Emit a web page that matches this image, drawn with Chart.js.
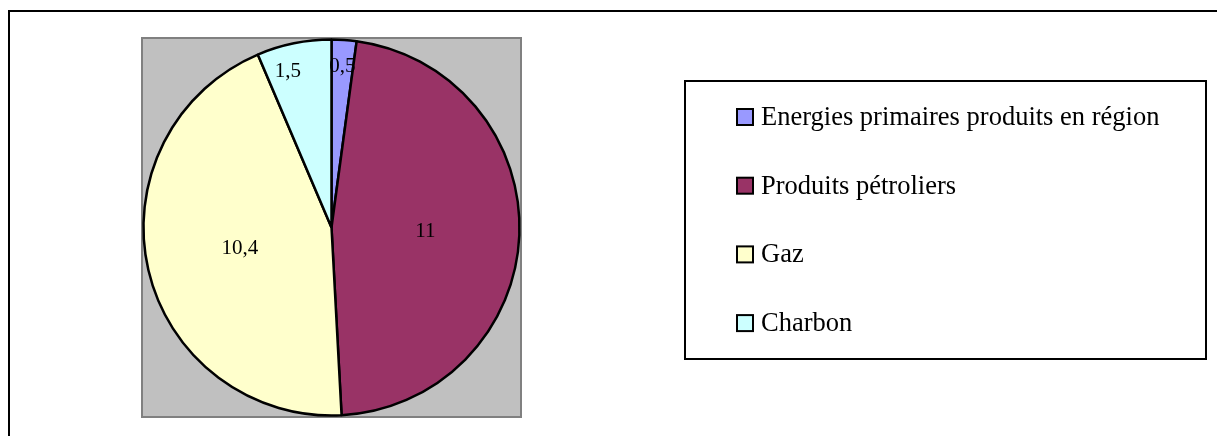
<!DOCTYPE html>
<html>
<head>
<meta charset="utf-8">
<script src="https://cdn.jsdelivr.net/npm/chart.js@4/dist/chart.umd.min.js"></script>
<style>
  html, body { margin: 0; padding: 0; background: #fff; }
  #wrap { width: 1217px; height: 436px; position: relative; }
</style>
</head>
<body>
<div id="wrap"><canvas id="pie" width="1217" height="436"></canvas></div>
<script>
// data
const categories = ['Energies primaires produits en région', 'Produits pétroliers', 'Gaz', 'Charbon'];
const values = [0.5, 11, 10.4, 1.5];
const valueLabels = ['0,5', '11', '10,4', '1,5'];
const sliceColors = ['#9999FF', '#993366', '#FFFFCC', '#CCFFFF'];

const serif = '"Liberation Serif", "Times New Roman", serif';

// frame + grey plot area behind the pie
const backdrop = {
    id: 'backdrop',
    beforeDraw(chart) {
        const ctx = chart.ctx;
        const a = chart.chartArea;
        ctx.save();
        ctx.strokeStyle = '#000';
        ctx.lineWidth = 2;
        ctx.strokeRect(9, 11, 1400, 600);
        ctx.fillStyle = '#C0C0C0';
        ctx.fillRect(a.left, a.top, a.right - a.left, a.bottom - a.top);
        ctx.strokeStyle = '#808080';
        ctx.lineWidth = 2;
        ctx.strokeRect(a.left, a.top, a.right - a.left, a.bottom - a.top);
        ctx.restore();
    }
};

// value labels inside slices, pushed outward on the thin ones
const sliceLabels = {
    id: 'sliceLabels',
    afterDatasetsDraw(chart) {
        const ctx = chart.ctx;
        const meta = chart.getDatasetMeta(0);
        ctx.save();
        ctx.font = '21px ' + serif;
        ctx.fillStyle = '#000';
        ctx.textAlign = 'center';
        ctx.textBaseline = 'middle';
        meta.data.forEach((arc, i) => {
            const p = arc.getProps(['x', 'y', 'startAngle', 'endAngle', 'outerRadius'], true);
            const span = p.endAngle - p.startAngle;
            const thin = span < 1;
            // thin slices: label sits toward the wider side of the wedge
            const mid = thin && i === values.length - 1 ? p.startAngle + span * 0.32 : (p.startAngle + p.endAngle) / 2;
            const r = p.outerRadius * (thin ? 0.86 : 0.5);
            ctx.fillText(valueLabels[i], p.x + Math.cos(mid) * r, p.y + Math.sin(mid) * r);
        });
        ctx.restore();
    }
};

// boxed legend on the right
const boxLegend = {
    id: 'boxLegend',
    afterDraw(chart) {
        const ctx = chart.ctx;
        const box = { x: 685, y: 81, w: 521, h: 278 };
        ctx.save();
        ctx.fillStyle = '#fff';
        ctx.fillRect(box.x, box.y, box.w, box.h);
        ctx.strokeStyle = '#000';
        ctx.lineWidth = 2;
        ctx.strokeRect(box.x, box.y, box.w, box.h);
        ctx.font = '26.5px ' + serif;
        ctx.textBaseline = 'middle';
        const labels = chart.data.labels;
        const colors = chart.data.datasets[0].backgroundColor;
        labels.forEach((lab, i) => {
            const cy = 117 + i * 68.7;
            ctx.fillStyle = colors[i];
            ctx.fillRect(737, cy - 8, 16, 16);
            ctx.lineWidth = 2;
            ctx.strokeStyle = '#000';
            ctx.strokeRect(737, cy - 8, 16, 16);
            ctx.fillStyle = '#000';
            ctx.fillText(lab, 761, cy + 1);
        });
        ctx.restore();
    }
};

new Chart(document.getElementById('pie'), {
    type: 'pie',
    data: {
        labels: categories,
        datasets: [{
            data: values,
            backgroundColor: sliceColors,
            borderColor: '#000',
            borderWidth: 2.5
        }]
    },
    options: {
        responsive: false,
        animation: false,
        radius: 188,
        layout: { padding: { left: 142, top: 38, right: 696, bottom: 19 } },
        plugins: { legend: { display: false }, tooltip: { enabled: false } }
    },
    plugins: [backdrop, sliceLabels, boxLegend]
});
</script>
</body>
</html>
